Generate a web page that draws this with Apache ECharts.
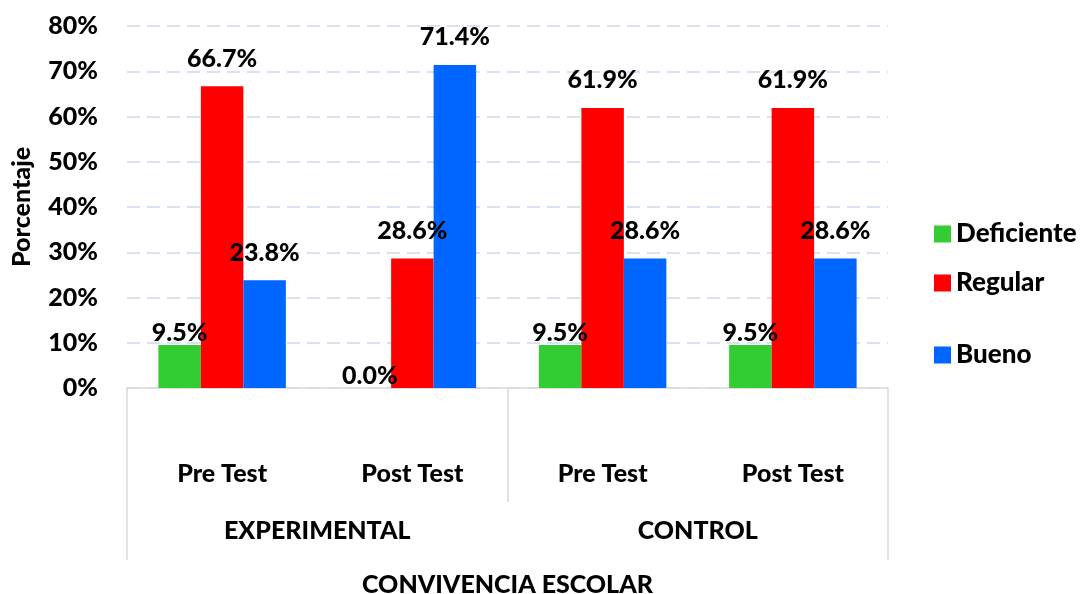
<!DOCTYPE html>
<html>
<head>
<meta charset="utf-8">
<script src="https://cdn.jsdelivr.net/npm/echarts@6/dist/echarts.min.js"></script>
<style>
  html, body { margin: 0; padding: 0; background: #fff; }
  #main { width: 1083px; height: 594px; }
</style>
</head>
<body>
<div id="main"></div>
<script>
// datos
var subCats = ['Pre Test', 'Post Test', 'Pre Test', 'Post Test'];
var groups = ['EXPERIMENTAL', 'CONTROL'];
var deficiente = [9.5, 0.0, 9.5, 9.5];
var regular = [66.7, 28.6, 61.9, 61.9];
var bueno = [23.8, 71.4, 28.6, 28.6];
var yTicks = [0, 10, 20, 30, 40, 50, 60, 70, 80];

var font = 'Lato';
var weight = 900;
var lineGray = '#d9d9d9';

var myChart = echarts.init(document.getElementById('main'));

function lbl(dist) {
    return {
        show: true,
        position: 'top',
        distance: dist,
        color: '#000',
        fontFamily: font,
        fontWeight: weight,
        fontSize: 25,
        formatter: function (p) { return p.value.toFixed(1) + '%'; }
    };
}

var option = {
    animation: false,
    grid: { left: 127, right: 195, top: 26, bottom: 206, outerBoundsMode: 'none' },
    legend: [
        { data: ['Deficiente'], left: 929, top: 216 },
        { data: ['Regular'], left: 929, top: 265 },
        { data: ['Bueno'], left: 929, top: 337 }
    ].map(function (l) {
        l.orient = 'vertical';
        l.icon = 'rect';
        l.itemWidth = 17;
        l.itemHeight = 17;
        l.itemGap = 5;
        l.textStyle = { fontFamily: font, fontWeight: weight, fontSize: 26, color: '#000' };
        return l;
    }),
    xAxis: [
        {
            type: 'category',
            data: subCats,
            position: 'bottom',
            axisLine: { lineStyle: { color: lineGray, width: 1.5 } },
            axisTick: { show: false },
            axisLabel: { margin: 73, color: '#000', fontFamily: font, fontWeight: weight, fontSize: 25 }
        },
        {
            type: 'category',
            data: groups,
            position: 'bottom',
            axisLine: { show: false },
            axisTick: { show: true, length: 114, interval: 0, lineStyle: { color: lineGray, width: 1.5 } },
            axisLabel: { margin: 130, color: '#000', fontFamily: font, fontWeight: weight, fontSize: 25 }
        },
        {
            type: 'category',
            data: ['CONVIVENCIA ESCOLAR'],
            position: 'bottom',
            axisLine: { show: false },
            axisTick: { show: true, length: 172, lineStyle: { color: lineGray, width: 1.5 } },
            axisLabel: { margin: 184, color: '#000', fontFamily: font, fontWeight: weight, fontSize: 25 }
        }
    ],
    yAxis: {
        type: 'value',
        min: yTicks[0],
        max: yTicks[yTicks.length - 1],
        interval: 10,
        name: 'Porcentaje',
        nameLocation: 'middle',
        nameRotate: 90,
        nameGap: 93,
        nameTextStyle: { color: '#000', fontFamily: font, fontWeight: weight, fontSize: 25 },
        axisLine: { show: false },
        axisTick: { show: false },
        axisLabel: {
            margin: 29,
            color: '#000',
            fontFamily: font,
            fontWeight: weight,
            fontSize: 25,
            formatter: '{value}%'
        },
        splitLine: { lineStyle: { color: '#d9e1f2', width: 2, type: [13, 7] } }
    },
    series: [
        {
            name: 'Deficiente',
            type: 'bar',
            data: deficiente,
            barGap: 0,
            barCategoryGap: '33%',
            itemStyle: { color: '#33cc33' },
            label: lbl(0)
        },
        {
            name: 'Regular',
            type: 'bar',
            data: regular,
            itemStyle: { color: '#ff0000' },
            label: lbl(15)
        },
        {
            name: 'Bueno',
            type: 'bar',
            data: bueno,
            itemStyle: { color: '#0066ff' },
            label: lbl(15)
        }
    ]
};

option && myChart.setOption(option);
</script>
</body>
</html>
